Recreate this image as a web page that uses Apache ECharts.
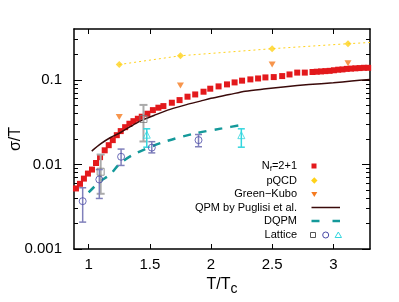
<!DOCTYPE html>
<html><head><meta charset="utf-8">
<script src="https://cdn.jsdelivr.net/npm/echarts@6/dist/echarts.min.js"></script>
<style>html,body{margin:0;padding:0;background:#fff}#c{width:399px;height:302px}</style>
</head><body><div id="c"></div>
<script>
// ---- data ----
const redX = [0.896,0.929,0.961,0.994,1.027,1.060,1.093,1.131,1.164,1.197,1.230,1.262,1.298,1.333,1.366,1.402,1.434,1.480,1.525,1.570,1.611,1.680,1.743,1.808,1.871,1.939,1.994,2.062,2.131,2.193,2.254,2.322,2.385,2.445,2.513,2.582,2.642,2.705,2.767,2.830,2.865,2.900,2.935,2.970,3.005,3.040,3.075,3.110,3.145,3.180,3.215,3.250,3.285];
const redY = [0.0052,0.0059,0.0068,0.0078,0.0087,0.0104,0.0122,0.0147,0.0169,0.0194,0.0222,0.0248,0.0276,0.0303,0.0325,0.0347,0.0367,0.0398,0.0439,0.0469,0.0490,0.0537,0.0577,0.0633,0.0673,0.0725,0.0787,0.0838,0.0885,0.0934,0.0980,0.1014,0.104,0.107,0.108,0.111,0.116,0.122,0.122,0.124,0.125,0.126,0.127,0.128,0.130,0.132,0.133,0.135,0.136,0.137,0.138,0.139,0.139];
const pqX = [1.25,1.75,2.5,3.12];
const pqY = [0.152,0.193,0.234,0.268];
const pqLineX = [1.25,1.75,2.5,3.12,3.3];
const pqLineY = [0.152,0.193,0.234,0.268,0.277];
const gkX = [1.25,1.75,2.5,3.12];
const gkY = [0.0365,0.086,0.152,0.157];
const qpmX = [1.025,1.1,1.175,1.257,1.34,1.42,1.55,1.666,1.8,1.913,2.0,2.15,2.28,2.45,2.61,2.8,3.0,3.15,3.3];
const qpmY = [0.0144,0.0176,0.0207,0.0237,0.028,0.0325,0.0388,0.0448,0.051,0.0561,0.0605,0.067,0.0735,0.0785,0.0831,0.088,0.0926,0.097,0.101];
const dqX = [1.0,1.093,1.175,1.257,1.38,1.598,1.871,2.09,2.254];
const dqY = [0.00467,0.0063,0.0076,0.0103,0.0134,0.0181,0.0233,0.0267,0.0293];
const sqX = [1.098,1.448];
const sqY = [0.0082,0.0345];
const sqLo = [0.0045,0.0187];
const sqHi = [0.0131,0.0506];
const ciX = [0.951,1.087,1.265,1.516,1.898];
const ciY = [0.00368,0.00664,0.01233,0.0158,0.0194];
const ciLo = [0.00208,0.00396,0.00973,0.0137,0.0162];
const ciHi = [0.0053,0.0087,0.0152,0.0186,0.0226];
const trX = [1.475,2.248];
const trY = [0.0225,0.0222];
const trLo = [0.016,0.016];
const trHi = [0.0264,0.0264];
const xTicks = [1,1.5,2,2.5,3];
const yMajor = [0.001,0.01,0.1];
const yMinor = [0.002,0.003,0.004,0.005,0.006,0.007,0.008,0.009,0.02,0.03,0.04,0.05,0.06,0.07,0.08,0.09,0.2,0.3];
const legendNames = ['{n|N}{s|f}{n|=2+1}','pQCD','Green\u2212Kubo','QPM by Puglisi et al.','DQPM','Lattice'];

// ---- helpers ----
const zip = (a,b) => a.map((v,i)=>[v,b[i]]);
const zip3 = (a,b,c) => a.map((v,i)=>[v,b[i],c[i]]);
const FONT = '"Liberation Sans", Arial, sans-serif';
function errRender(color, capW, lw){
  return function(params, api){
    const x = api.value(0), lo = api.value(1), hi = api.value(2);
    const p1 = api.coord([x, lo]), p2 = api.coord([x, hi]);
    const h = capW/2, st = {stroke:color, lineWidth:lw};
    return {type:'group', children:[
      {type:'line', shape:{x1:p1[0],y1:p1[1],x2:p2[0],y2:p2[1]}, style:st},
      {type:'line', shape:{x1:p1[0]-h,y1:p1[1],x2:p1[0]+h,y2:p1[1]}, style:st},
      {type:'line', shape:{x1:p2[0]-h,y1:p2[1],x2:p2[0]+h,y2:p2[1]}, style:st}
    ]};
  };
}
const C = {red:'#e3191c', gold:'#ffd21a', orange:'#f57a1f', qpm:'#3a0a0a', dq:'#14999a', grey:'#7a7a7a', greyBar:'#aaaaaa', blue:'#4a4aa8', blueBar:'#8080bb', cyan:'#33d6de'};

const axisLine = {show:true, lineStyle:{color:'#000', width:1.5}};
const yBase = {type:'log', logBase:10, min:0.001, max:0.4, splitLine:{show:false}, axisLine};
const xBase = {type:'value', min:0.88, max:3.3, splitLine:{show:false}, axisLine};

const rowY = [166,180.5,194,207.5,221,235];
const lx = 297;
const graphic = legendNames.map((t,i)=>({type:'text', x:lx, y:rowY[i], style:{text:t, align:'right', verticalAlign:'middle', fill:'#000', font:'11px '+FONT,
  rich:{n:{fontSize:11, fontFamily:FONT, fill:'#000'}, s:{fontSize:8, fontFamily:FONT, fill:'#000', padding:[5,0,0,0]}}}}));
graphic.push(
  {type:'rect', shape:{x:311.5, y:rowY[0]-2.5, width:5, height:5}, style:{fill:C.red}},
  {type:'polygon', shape:{points:[[314.3,rowY[1]-3.2],[317.5,rowY[1]],[314.3,rowY[1]+3.2],[311.1,rowY[1]]]}, style:{fill:C.gold}},
  {type:'polygon', shape:{points:[[311.3,rowY[2]-2],[317.3,rowY[2]-2],[314.3,rowY[2]+3]]}, style:{fill:C.orange}},
  {type:'line', shape:{x1:311.5,y1:rowY[3],x2:340,y2:rowY[3]}, style:{stroke:C.qpm, lineWidth:1.5}},
  {type:'line', shape:{x1:311.5,y1:rowY[4],x2:319.5,y2:rowY[4]}, style:{stroke:C.dq, lineWidth:2.5}},
  {type:'line', shape:{x1:332.5,y1:rowY[4],x2:340,y2:rowY[4]}, style:{stroke:C.dq, lineWidth:2.5}},
  {type:'rect', shape:{x:310.5, y:rowY[5]-2.5, width:5, height:5}, style:{fill:'none', stroke:'#555', lineWidth:1}},
  {type:'circle', shape:{cx:325.7, cy:rowY[5], r:3}, style:{fill:'none', stroke:C.blue, lineWidth:1}},
  {type:'polygon', shape:{points:[[338.3,rowY[5]-3],[341.5,rowY[5]+2.5],[335.1,rowY[5]+2.5]]}, style:{fill:'none', stroke:C.cyan, lineWidth:1}}
);

const option = {
  animation:false,
  backgroundColor:'#fff',
  grid:{left:74, right:29, top:29, bottom:53, containLabel:false, outerBoundsMode:'none'},
  xAxis:[
    Object.assign({}, xBase, {position:'bottom',
      axisTick:{show:true, inside:true, length:5, customValues:xTicks, lineStyle:{color:'#000', width:1}},
      axisLabel:{customValues:xTicks, fontSize:15, fontFamily:FONT, color:'#000', margin:8, formatter:v=>String(v)},
      name:'{a|T/T}{s|c}', nameLocation:'middle', nameGap:24, nameMoveOverlap:false,
      nameTextStyle:{rich:{a:{fontSize:16, fontFamily:FONT, color:'#000'}, s:{fontSize:14, fontFamily:FONT, color:'#000', padding:[9,0,0,0]}}}}),
    Object.assign({}, xBase, {position:'top',
      axisTick:{show:true, inside:true, length:5, customValues:xTicks, lineStyle:{color:'#000', width:1}},
      axisLabel:{show:false}})
  ],
  yAxis:[
    Object.assign({}, yBase, {position:'left',
      axisTick:{show:true, inside:true, length:8, customValues:yMajor, lineStyle:{color:'#000', width:1}},
      axisLabel:{customValues:yMajor, fontSize:15, fontFamily:FONT, color:'#000', margin:12, formatter:v=>String(v)},
      name:'\u03c3/T', nameLocation:'middle', nameGap:50, nameMoveOverlap:false, nameTextStyle:{fontSize:16, fontFamily:FONT, color:'#000'}}),
    Object.assign({}, yBase, {position:'left', axisLine:{show:false},
      axisTick:{show:true, inside:true, length:4, customValues:yMinor, lineStyle:{color:'#000', width:1}},
      axisLabel:{show:false}}),
    Object.assign({}, yBase, {position:'right',
      axisTick:{show:true, inside:true, length:8, customValues:yMajor, lineStyle:{color:'#000', width:1}},
      axisLabel:{show:false}}),
    Object.assign({}, yBase, {position:'right', axisLine:{show:false},
      axisTick:{show:true, inside:true, length:4, customValues:yMinor, lineStyle:{color:'#000', width:1}},
      axisLabel:{show:false}})
  ],
  graphic,
  series:[
    {type:'scatter', name:'Nf=2+1', data:zip(redX,redY), symbol:'rect', symbolSize:6, itemStyle:{color:C.red, opacity:1}, z:2},
    {type:'line', data:zip(pqLineX,pqLineY), showSymbol:false, symbol:'none', lineStyle:{color:C.gold, width:1, type:[2,3]}, z:2},
    {type:'scatter', data:zip(pqX,pqY), symbol:'diamond', symbolSize:[7,7], itemStyle:{color:C.gold}, z:3},
    {type:'scatter', data:zip(gkX,gkY), symbol:'triangle', symbolRotate:180, symbolSize:[7,6], itemStyle:{color:C.orange}, z:3},
    {type:'line', data:zip(qpmX,qpmY), showSymbol:false, symbol:'none', smooth:0.3, lineStyle:{color:C.qpm, width:1.5}, z:4},
    {type:'line', data:zip(dqX,dqY), showSymbol:false, symbol:'none', smooth:0.3, lineStyle:{color:C.dq, width:2.5, type:[8,8]}, z:4},
    {type:'custom', data:zip3(sqX,sqLo,sqHi), renderItem:errRender(C.greyBar,8,2), z:5},
    {type:'scatter', data:zip(sqX,sqY), symbol:'rect', symbolSize:7, itemStyle:{color:'rgba(0,0,0,0)', borderColor:C.grey, borderWidth:1}, z:6},
    {type:'custom', data:zip3(ciX,ciLo,ciHi), renderItem:errRender(C.blueBar,7,1.5), z:5},
    {type:'scatter', data:zip(ciX,ciY), symbol:'circle', symbolSize:7, itemStyle:{color:'rgba(0,0,0,0)', borderColor:C.blue, borderWidth:1}, z:6},
    {type:'custom', data:zip3(trX,trLo,trHi), renderItem:errRender(C.cyan,7,1.5), z:5},
    {type:'scatter', data:zip(trX,trY), symbol:'triangle', symbolSize:7, itemStyle:{color:'rgba(0,0,0,0)', borderColor:C.cyan, borderWidth:1}, z:6}
  ]
};
const chart = echarts.init(document.getElementById('c'), null, {renderer:'canvas'});
chart.setOption(option);
</script></body></html>
